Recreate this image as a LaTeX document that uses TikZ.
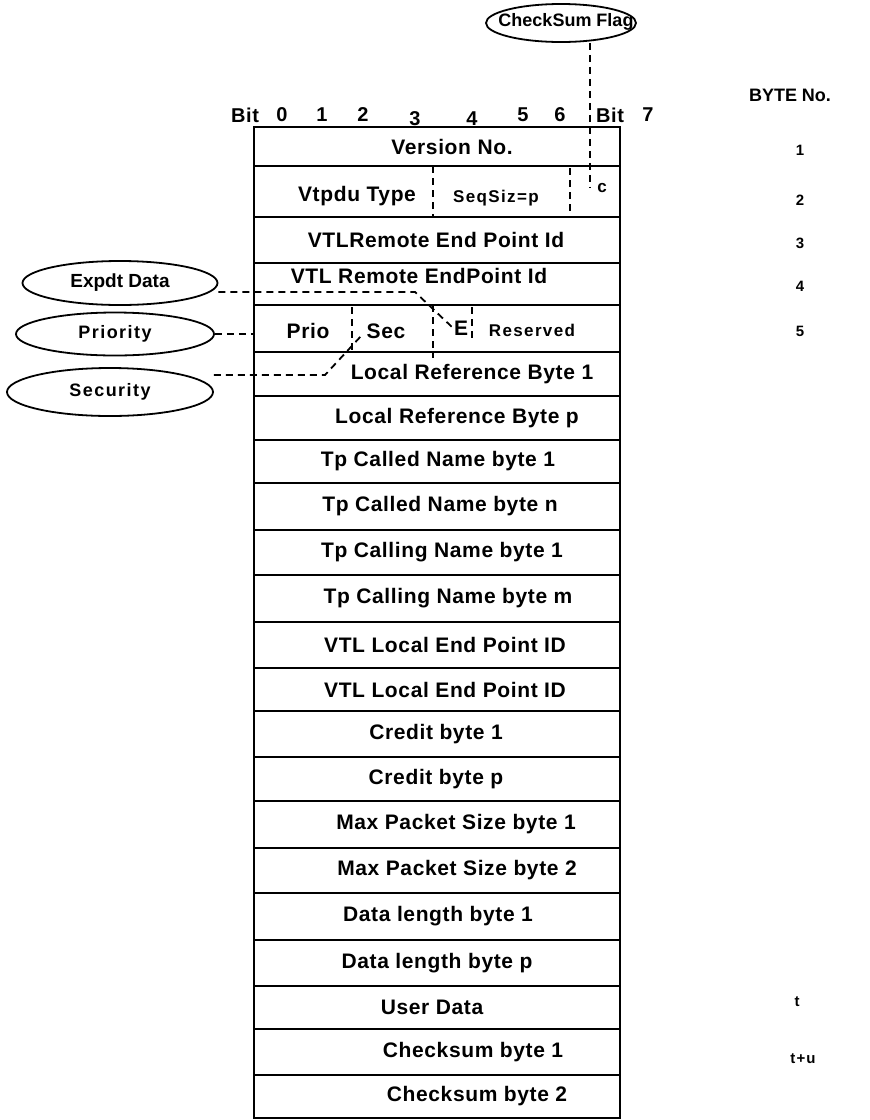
\documentclass[tikz,border=0pt]{standalone}
\usepackage{fontspec}
\setmainfont{Liberation Sans}
\newfontfamily\rowfont[LetterSpace=3]{Liberation Sans}
\newfontfamily\flagfont[LetterSpace=0]{Liberation Sans}
\newfontfamily\lblfont[LetterSpace=8]{Liberation Sans}
\usetikzlibrary{shapes.geometric}
\begin{document}
\begin{tikzpicture}[x=1pt,y=-1pt,
  frameline/.style={line width=2.2pt},
  sepline/.style={line width=2pt},
  dl/.style={line width=1.8pt, dash pattern=on 7pt off 5pt},
  rowtxt/.style={font=\rowfont\bfseries\fontsize{21}{24}\selectfont, inner sep=0pt},
  smalltxt/.style={font=\lblfont\bfseries\fontsize{17}{20}\selectfont, inner sep=0pt},
  bittxt/.style={font=\rowfont\bfseries\fontsize{20}{22}\selectfont, inner sep=0pt},
  numtxt/.style={font=\lblfont\bfseries\fontsize{15}{18}\selectfont, inner sep=0pt},
  ell/.style={ellipse, draw, line width=1.8pt, inner sep=0pt},
  elltxt/.style={font=\lblfont\bfseries\fontsize{18}{20}\selectfont}
]
\useasboundingbox (0,0) rectangle (870,1120);

% frame and row separators
\node[draw, frameline, anchor=north west, minimum width=366pt, minimum height=991pt,
      inner sep=0pt, outer sep=0pt] (frame) at (254,127) {};
\foreach \y in {166,217,263,305,352,396,440,483,530,575,622,668,711,757,801,848,893,940,986,1029,1075}
  \draw[sepline] (254,\y) -- (620,\y);

% field dividers
\draw[dl] (433,166) -- (433,217);
\draw[dl] (570,168) -- (570,213);
\draw[dl] (352,307) -- (352,350);
\draw[dl] (433,305) -- (433,358);
\draw[dl] (472,307) -- (472,343);

% bit numbers
\node[bittxt] (bitl) at (245,115) {Bit};
\node[bittxt] (b0) at (282,115) {0};
\node[bittxt] (b1) at (322,115) {1};
\node[bittxt] (b2) at (363,115) {2};
\node[bittxt] (b3) at (415,119) {3};
\node[bittxt] (b4) at (472,119) {4};
\node[bittxt] (b5) at (523,115) {5};
\node[bittxt] (b6) at (560,115) {6};
\node[bittxt] (bitr) at (610,115) {Bit};
\node[bittxt] (b7) at (648,115) {7};

% row texts
\node[rowtxt] (r1) at (452,147) {Version No.};
\node[rowtxt] (r2a) at (357,196) {Vtpdu Type};
\node[smalltxt] (r2b) at (496,198) {SeqSiz=p};
\node[smalltxt] (r2c) at (602,188) {c};
\node[rowtxt] (r3) at (436,240) {VTLRemote End Point Id};
\node[rowtxt] (r4) at (419,276) {VTL Remote EndPoint Id};
\node[rowtxt] (r5a) at (308,331) {Prio};
\node[rowtxt] (r5b) at (386,331) {Sec};
\node[rowtxt] (r5c) at (461,328) {E};
\node[smalltxt] (r5d) at (532,330) {Reserved};
\node[rowtxt] (r6) at (472,374) {Local Reference Byte 1};
\node[rowtxt] (r7) at (457,418) {Local Reference Byte p};
\node[rowtxt] (r8) at (438,461) {Tp Called Name byte 1};
\node[rowtxt] (r9) at (440,506) {Tp Called Name byte n};
\node[rowtxt] (r10) at (442,552) {Tp Calling Name byte 1};
\node[rowtxt] (r11) at (448,598) {Tp Calling Name byte m};
\node[rowtxt] (r12) at (445,645) {VTL Local End Point ID};
\node[rowtxt] (r13) at (445,690) {VTL Local End Point ID};
\node[rowtxt] (r14) at (436,734) {Credit byte 1};
\node[rowtxt] (r15) at (436,779) {Credit byte p};
\node[rowtxt] (r16) at (456,824) {Max Packet Size byte 1};
\node[rowtxt] (r17) at (457,870) {Max Packet Size byte 2};
\node[rowtxt] (r18) at (438,916) {Data length byte 1};
\node[rowtxt] (r19) at (437,963) {Data length byte p};
\node[rowtxt] (r20) at (432,1007) {User Data};
\node[rowtxt] (r21) at (473,1052) {Checksum byte 1};
\node[rowtxt] (r22) at (477,1096) {Checksum byte 2};

% byte numbers
\node[font=\flagfont\bfseries\fontsize{18}{20}\selectfont, inner sep=0pt] (byteno) at (790,95) {BYTE No.};
\node[numtxt] (n1) at (800,150) {1};
\node[numtxt] (n2) at (800,200) {2};
\node[numtxt] (n3) at (800,243) {3};
\node[numtxt] (n4) at (800,286) {4};
\node[numtxt] (n5) at (800,331) {5};
\node[numtxt] (nt) at (797,1002) {t};
\node[numtxt] (ntu) at (803,1059) {t+u};

% annotation ellipses
\node[ell, minimum width=150pt, minimum height=38pt] (csflag) at (561,23) {};
\node[font=\flagfont\bfseries\fontsize{18}{22}\selectfont, inner sep=0pt] (csflagtxt) at (566,22) {CheckSum Flag};
\node[ell, minimum width=195pt, minimum height=44pt, font=\flagfont\bfseries\fontsize{19}{22}\selectfont] (expdt) at (120,283) {Expdt Data};
\node[ell, minimum width=198pt, minimum height=43pt, elltxt] (prio) at (115,334) {Priority};
\node[ell, minimum width=206pt, minimum height=48pt, elltxt] (secu) at (110,392) {Security};

% connectors
\coordinate (csend) at (590,188);
\draw[dl] (csflag.south -| csend) -- (csend);

\coordinate (ebend) at (415,292);
\coordinate (eend) at (452,327);
\draw[dl] (expdt.east |- ebend) -- (ebend) -- (eend);

\draw[dl] (prio.east) -- (prio.east -| frame.west);

\coordinate (sbend) at (325,375);
\coordinate (send) at (362,335);
\draw[dl] (secu.east |- sbend) -- (sbend) -- (send);
\end{tikzpicture}
\end{document}
